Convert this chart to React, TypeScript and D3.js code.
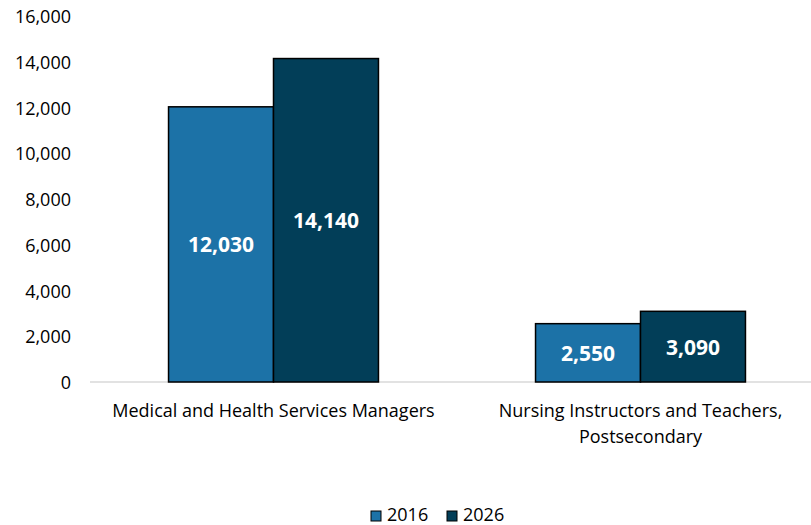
import React from "react";
import * as d3 from "d3";

const categories = ["Medical and Health Services Managers", "Nursing Instructors and Teachers,|Postsecondary"];
const seriesNames = ["2016", "2026"];
const values2016 = [12030, 2550];
const values2026 = [14140, 3090];
const yTicks = [0, 2000, 4000, 6000, 8000, 10000, 12000, 14000, 16000];
const colors = ["#1c72a7", "#023e58"];

const W = 811;
const H = 525;
const FONT = "'Open Sans', Lato, sans-serif";

export default function App() {
  const series = [values2016, values2026];
  const y = d3.scaleLinear().domain([0, 16000]).range([382, 16]);
  const x0 = d3.scaleBand<number>().domain(categories.map((_, i) => i)).range([90, 824]).padding(0);
  const bw = x0.bandwidth();
  const x1 = d3.scaleBand<number>().domain(seriesNames.map((_, i) => i)).range([bw * 0.214, bw * 0.786]).padding(0);
  const fmt = d3.format(",");

  return (
    <div style={{ position: "absolute", left: 0, top: 0 }}>
      <svg width={W} height={H} style={{ display: "block", fontFamily: FONT }}>
        <rect width={W} height={H} fill="#fff" />
        {yTicks.map((t) => (
          <text key={t} x={71} y={y(t)} textAnchor="end" dominantBaseline="central" fontSize={18} fill="#000">
            {fmt(t)}
          </text>
        ))}
        <line x1={90} x2={W} y1={y(0)} y2={y(0)} stroke="#d9d9d9" strokeWidth={1.5} />
        {categories.map((c, ci) =>
          series.map((vals, si) => {
            const x = (x0(ci) as number) + (x1(si) as number);
            const w = x1.bandwidth();
            const top = y(vals[ci]);
            return (
              <g key={`${ci}-${si}`}>
                <rect x={x} y={top} width={w} height={y(0) - top} fill={colors[si]} stroke="#000" strokeWidth={1.5} />
                <text
                  x={x + w / 2}
                  y={(top + y(0)) / 2}
                  textAnchor="middle"
                  dominantBaseline="central"
                  fontSize={21}
                  fontWeight="bold"
                  fill="#fff"
                >
                  {fmt(vals[ci])}
                </text>
              </g>
            );
          })
        )}
        {categories.map((c, ci) => {
          const cx = (x0(ci) as number) + bw / 2;
          return c.split("|").map((line, li) => (
            <text key={`${ci}-${li}`} x={cx} y={410 + li * 26} textAnchor="middle" dominantBaseline="central" fontSize={18} fill="#000">
              {line}
            </text>
          ));
        })}
        {seriesNames.map((s, si) => {
          const lx = 371 + si * 76;
          return (
            <g key={s}>
              <rect x={lx} y={511} width={10} height={10} fill={colors[si]} stroke="#000" strokeWidth={1} />
              <text x={lx + 16} y={521} fontSize={18} fill="#000">
                {s}
              </text>
            </g>
          );
        })}
      </svg>
    </div>
  );
}
